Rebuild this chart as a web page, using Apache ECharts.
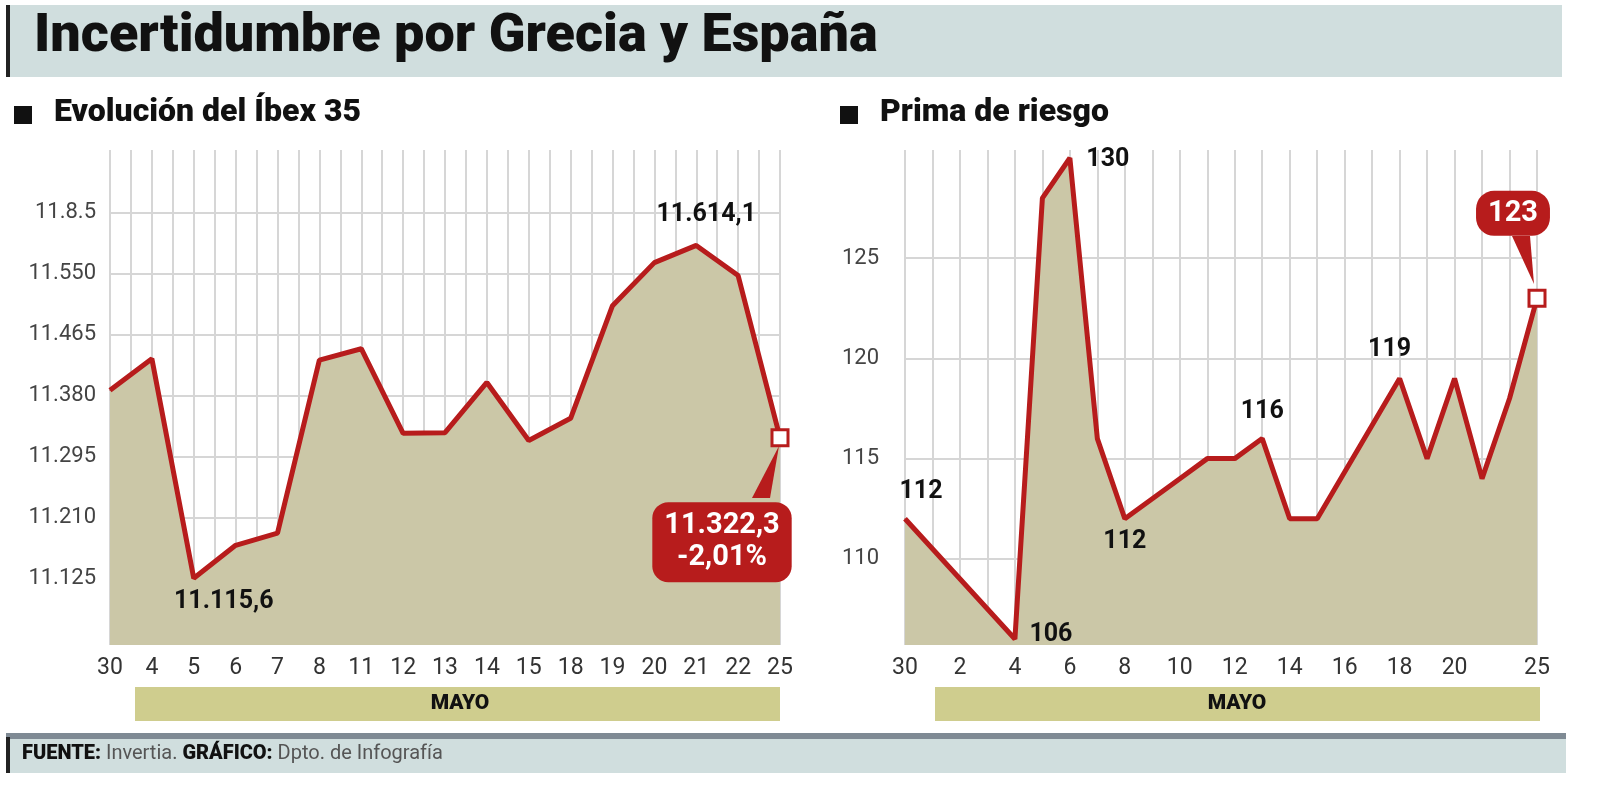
<!DOCTYPE html>
<html>
<head>
<meta charset="utf-8">
<script src="https://cdn.jsdelivr.net/npm/echarts@6/dist/echarts.min.js"></script>
<style>html,body{margin:0;padding:0;background:#fff}#chart{width:1600px;height:793px}</style>
</head>
<body>
<div id="chart"></div>
<script>
// Ibex 35
var ibexDays = ['30', '4', '5', '6', '7', '8', '11', '12', '13', '14', '15', '18', '19', '20', '21', '22', '25'];
var ibexValues = [11387, 11431, 11125, 11171, 11188, 11429, 11445, 11327, 11328, 11398, 11317, 11348, 11505, 11565, 11589, 11547, 11321];
var ibexTicks = [11125, 11210, 11295, 11380, 11465, 11550, 11635];
var ibexTickLabels = ['11.125', '11.210', '11.295', '11.380', '11.465', '11.550', '11.8.5'];
var ibexNotes = { 2: '11.115,6', 14: '11.614,1' };

// Prima de riesgo
var primaDays = ['30', '1', '2', '3', '4', '5', '6', '7', '8', '9', '10', '11', '12', '13', '14', '15', '16', '17', '18', '19', '20', '21', '22', '25'];
var primaValues = [112, null, null, null, 106, 128, 130, 116, 112, null, 114, 115, 115, 116, 112, 112, null, null, 119, 115, 119, 114, 118, 123];
var primaShownDays = ['30', '2', '4', '6', '8', '10', '12', '14', '16', '18', '20', '25'];
var primaTicks = [110, 115, 120, 125];
var primaNotes = { 0: '112', 4: '106', 6: '130', 8: '112', 13: '116', 18: '119' };

var red = '#b71c1c';
var fill = '#cbc7a7';
var gridColor = '#d6d6d6';
var font = 'Roboto';

var chart = echarts.init(document.getElementById('chart'));

function buildData(values, notes, lastLabel) {
    return values.map(function (v, i) {
        var item = { value: v };
        if (notes[i]) {
            var below = (values === ibexValues && i === 2) || (values === primaValues && (i === 8));
            item.label = {
                show: true,
                formatter: notes[i],
                position: below ? 'bottom' : 'top',
                distance: 10,
                fontSize: 25, fontWeight: 'bold', color: '#111', fontFamily: font
            };
            if (values === primaValues && (i === 4 || i === 6)) {
                item.label.position = 'right';
                item.label.offset = i === 4 ? [4, -4] : [6, 2];
            }
            if (values === ibexValues && i === 2) item.label.offset = [30, 0];
            if (values === ibexValues && i === 14) item.label.offset = [10, -8];
            if (values === primaValues && i === 18) item.label.offset = [-10, -6];
            if (values === primaValues && i === 13) item.label.offset = [0, -4];
            if (values === primaValues && i === 0) item.label.offset = [16, -4];
        }
        if (i === values.length - 1) {
            item.symbol = 'rect';
            item.symbolSize = 16;
            item.itemStyle = { color: '#fff', borderColor: red, borderWidth: 3 };
            item.label = lastLabel;
        }
        return item;
    });
}

var blankTicks = Array(33).fill('');

chart.setOption({
    animation: false,
    graphic: [
        { type: 'rect', shape: { x: 6, y: 5, width: 1556, height: 72 }, style: { fill: '#d0dede' } },
        { type: 'rect', shape: { x: 6, y: 5, width: 4, height: 72 }, style: { fill: '#222' } },
        { type: 'text', left: 34, top: 10, style: { text: 'Incertidumbre por Grecia y España', fontSize: 54, fontWeight: 900, fill: '#111', fontFamily: font } },
        { type: 'rect', shape: { x: 14, y: 106, width: 18, height: 18 }, style: { fill: '#111' } },
        { type: 'text', left: 54, top: 97, style: { text: 'Evolución del Íbex 35', fontSize: 32, fontWeight: 900, fill: '#111', fontFamily: font } },
        { type: 'rect', shape: { x: 840, y: 106, width: 18, height: 18 }, style: { fill: '#111' } },
        { type: 'text', left: 880, top: 97, style: { text: 'Prima de riesgo', fontSize: 32, fontWeight: 900, fill: '#111', fontFamily: font } },
        { type: 'rect', shape: { x: 135, y: 687, width: 645, height: 34 }, style: { fill: '#cfcd8e' } },
        { type: 'text', x: 460, y: 704, style: { text: 'MAYO', fontSize: 21, fontWeight: 900, fill: '#111', fontFamily: font, align: 'center', verticalAlign: 'middle' } },
        { type: 'rect', shape: { x: 935, y: 687, width: 605, height: 34 }, style: { fill: '#cfcd8e' } },
        { type: 'text', x: 1237, y: 704, style: { text: 'MAYO', fontSize: 21, fontWeight: 900, fill: '#111', fontFamily: font, align: 'center', verticalAlign: 'middle' } },
        { type: 'rect', shape: { x: 6, y: 733, width: 1560, height: 6 }, style: { fill: '#7f8a94' } },
        { type: 'rect', shape: { x: 6, y: 739, width: 1560, height: 34 }, style: { fill: '#d0dede' } },
        { type: 'rect', shape: { x: 6, y: 737, width: 4, height: 36 }, style: { fill: '#222' } },
        { type: 'text', left: 22, top: 744, style: {
            text: '{b|FUENTE:} Invertia. {b|GRÁFICO:} Dpto. de Infografía',
            fontSize: 20, fill: '#555', fontFamily: font,
            rich: { b: { fontSize: 20, fontWeight: 900, fill: '#111', fontFamily: font } }
        } },
        // callout pointers
        { type: 'polygon', z: 100, shape: { points: [[752, 498], [779, 446], [770, 498]] }, style: { fill: red } },
        { type: 'polygon', z: 100, shape: { points: [[1512, 236], [1534, 284], [1530, 236]] }, style: { fill: red } }
    ],
    grid: [
        { left: 110, right: 820, top: 150, bottom: 148 },
        { left: 905, right: 63, top: 150, bottom: 148 }
    ],
    xAxis: [
        {
            type: 'category', gridIndex: 0, data: ibexDays, boundaryGap: false,
            axisLine: { show: false }, axisTick: { show: false },
            axisLabel: { color: '#333', fontSize: 23, fontFamily: font, margin: 12, interval: 0 },
            splitLine: { show: false }
        },
        {
            type: 'category', gridIndex: 1, data: primaDays, boundaryGap: false,
            axisLine: { show: false }, axisTick: { show: false },
            axisLabel: { color: '#333', fontSize: 23, fontFamily: font, margin: 12, interval: 0,
                formatter: function (v) { return primaShownDays.indexOf(v) >= 0 ? v : ''; } },
            splitLine: { show: true, interval: 0, lineStyle: { color: gridColor, width: 2 } }
        },
        {
            type: 'category', gridIndex: 0, data: blankTicks, boundaryGap: false, position: 'top',
            axisLine: { show: false }, axisTick: { show: false }, axisLabel: { show: false },
            splitLine: { show: true, interval: 0, lineStyle: { color: gridColor, width: 2 } }
        }
    ],
    yAxis: [
        {
            type: 'value', gridIndex: 0, min: 11032, max: 11722,
            axisLine: { show: false },
            axisTick: { show: false, customValues: ibexTicks },
            axisLabel: { customValues: ibexTicks, color: '#444', fontSize: 22, fontFamily: font, margin: 14,
                formatter: function (v) { return ibexTickLabels[ibexTicks.indexOf(v)]; } },
            splitLine: { show: true, lineStyle: { color: gridColor, width: 2 } }
        },
        {
            type: 'value', gridIndex: 1, min: 105.7, max: 130.4,
            axisLine: { show: false },
            axisTick: { show: false, customValues: primaTicks },
            axisLabel: { customValues: primaTicks, color: '#444', fontSize: 22, fontFamily: font, margin: 26 },
            splitLine: { show: true, lineStyle: { color: gridColor, width: 2 } }
        }
    ],
    series: [
        {
            type: 'line', xAxisIndex: 0, yAxisIndex: 0,
            data: buildData(ibexValues, ibexNotes, {
                show: true, position: 'bottom', offset: [-58, 50],
                formatter: '11.322,3\n-2,01%',
                backgroundColor: red, borderRadius: 16, padding: [8, 12],
                color: '#fff', fontSize: 29, fontWeight: 'bold', lineHeight: 32, fontFamily: font, align: 'center'
            }),
            symbol: 'circle', symbolSize: 1, itemStyle: { color: red },
            lineStyle: { color: red, width: 5 },
            areaStyle: { color: fill, opacity: 1 }, z: 3
        },
        {
            type: 'line', xAxisIndex: 1, yAxisIndex: 1, connectNulls: true,
            data: buildData(primaValues, primaNotes, {
                show: true, position: 'top', offset: [-24, -48],
                formatter: '123',
                backgroundColor: red, borderRadius: 18, padding: [8, 12],
                color: '#fff', fontSize: 29, fontWeight: 'bold', fontFamily: font
            }),
            symbol: 'circle', symbolSize: 1, itemStyle: { color: red },
            lineStyle: { color: red, width: 5 },
            areaStyle: { color: fill, opacity: 1 }, z: 3
        }
    ]
});
</script>
</body>
</html>
